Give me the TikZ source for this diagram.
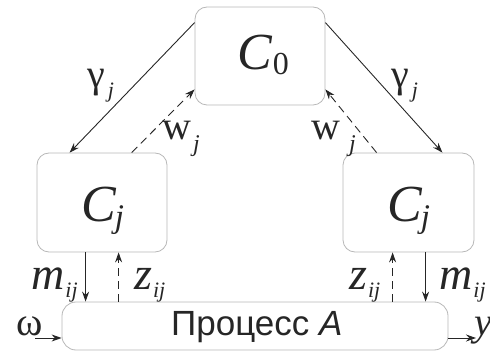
\documentclass[tikz,border=0pt]{standalone}
\usepackage{fontspec}
\setmainfont{Liberation Serif}
\newfontfamily\tnrfont{Liberation Serif}
\newfontfamily\arifont{Liberation Sans}
\usetikzlibrary{arrows.meta}
\newcommand{\mysub}[3]{\raisebox{-#2}{\fontsize{#1}{#1}\selectfont\itshape #3}}
\begin{document}
\begin{tikzpicture}[x=1pt,y=-1pt,
  box/.style={draw=black!28, line width=0.8pt, rounded corners=12pt, fill=white, inner sep=0pt},
  conn/.style={line width=0.9pt, draw=black!85, -{Stealth[length=10pt,width=7pt]}},
  dconn/.style={conn, dash pattern=on 8pt off 5pt},
  lbl/.style={inner sep=0pt, anchor=base west, text=black!85, font=\tnrfont\fontsize{40}{40}\selectfont},
  big/.style={inner sep=0pt, anchor=base west, text=black!85, font=\tnrfont\fontsize{52}{52}\selectfont}
]
\useasboundingbox (0,0) rectangle (490,355);
% boxes
\node[box, minimum width=130pt, minimum height=98pt] (c0) at (260,56) {};
\node[box, minimum width=130pt, minimum height=99pt] (cl) at (102,202.5) {};
\node[box, minimum width=131pt, minimum height=99pt] (cr) at (408.5,202.5) {};
\node[box, rounded corners=14pt, minimum width=386pt, minimum height=48pt] (p) at (255,326) {};
% box texts
\node[big] (t0) at (237,70) {\itshape C\kern1pt\mysub{32}{5pt}{\upshape 0}};
\node[big] (tl) at (81,222) {\itshape C\kern-1pt\mysub{33}{6pt}{j}};
\node[big] (tr) at (387,222) {\itshape C\kern-1pt\mysub{33}{6pt}{j}};
\node[inner sep=0pt, anchor=base west, text=black!85, font=\arifont\fontsize{35}{35}\selectfont] (tp) at (171,335) {Процесс \textit{A}};
% upper connectors
\draw[conn] ([yshift=-16pt]c0.north west) -- ([xshift=33pt]cl.north west);
\draw[dconn] ([xshift=95pt]cl.north west) -- ([yshift=16pt]c0.south west);
\draw[conn] ([yshift=-16pt]c0.north east) -- ([xshift=-32pt]cr.north east);
\draw[dconn] ([xshift=34pt]cr.north west) -- ([yshift=16pt]c0.south east);
% upper labels
\node[lbl] (gl) at (87,88) {γ\kern3pt\mysub{22}{10pt}{j}};
\node[lbl] (wl) at (162,140) {w\kern2pt\mysub{24}{12pt}{j}};
\node[lbl] (gr) at (391,88) {γ\kern3pt\mysub{22}{10pt}{j}};
\node[lbl] (wr) at (311,140) {w\kern9pt\mysub{24}{12pt}{j}};
% vertical connectors
\coordinate (ml) at ([xshift=49pt]cl.south west);
\coordinate (zl) at ([xshift=82pt]cl.south west);
\coordinate (zr) at ([xshift=50pt]cr.south west);
\coordinate (mr) at ([xshift=83pt]cr.south west);
\draw[conn] (ml) -- (ml |- p.north);
\draw[dconn] (zl |- p.north) -- (zl);
\draw[dconn] (zr |- p.north) -- (zr);
\draw[conn] (mr) -- (mr |- p.north);
% lower labels
\node[lbl, font=\tnrfont\fontsize{46}{46}\selectfont] (lml) at (31,290) {\itshape m\kern1pt\mysub{22}{8pt}{ij}};
\node[lbl, font=\tnrfont\fontsize{46}{46}\selectfont] (lzl) at (134,290) {\itshape z\kern1pt\mysub{22}{8pt}{ij}};
\node[lbl, font=\tnrfont\fontsize{46}{46}\selectfont] (lzr) at (349,290) {\itshape z\kern1pt\mysub{22}{8pt}{ij}};
\node[lbl, font=\tnrfont\fontsize{46}{46}\selectfont] (lmr) at (439,290) {\itshape m\kern1pt\mysub{22}{8pt}{ij}};
% input / output
\coordinate (win) at (35,338);
\coordinate (yout) at (476,338);
\draw[conn] (win) -- (win -| p.west);
\draw[conn] (p.east |- yout) -- (yout);
\node[lbl] (lw) at (16,335) {ω};
\node[lbl] (ly) at (474,335) {\itshape y};
\end{tikzpicture}
\end{document}
